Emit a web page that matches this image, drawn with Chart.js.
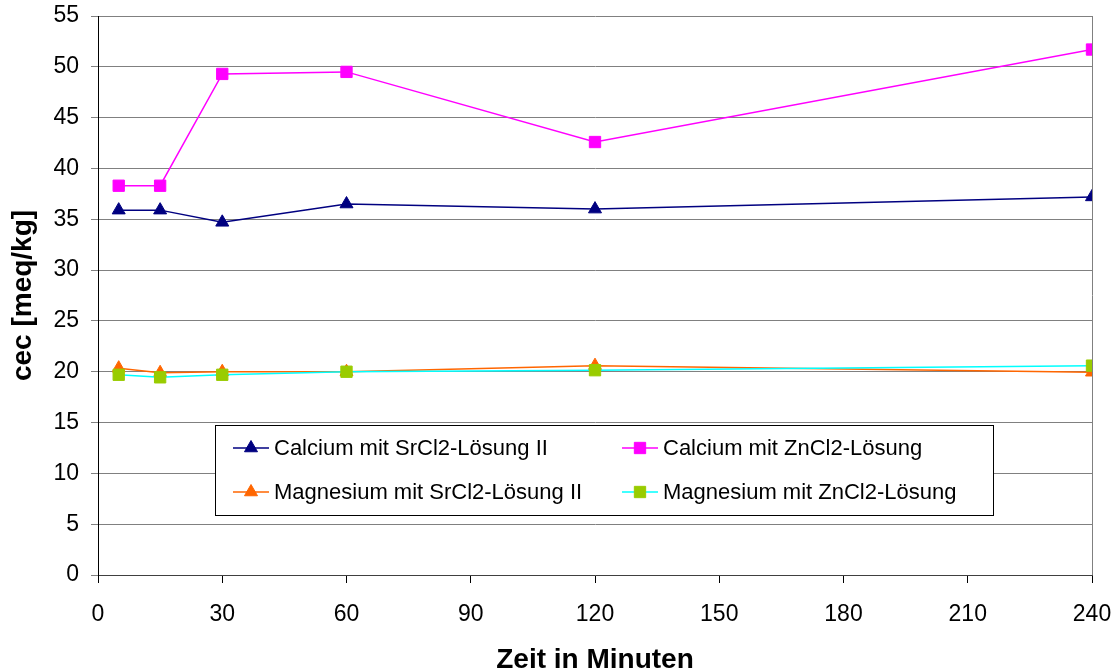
<!DOCTYPE html>
<html>
<head>
<meta charset="utf-8">
<script src="https://cdn.jsdelivr.net/npm/chart.js@4.4.0/dist/chart.umd.min.js"></script>
<style>
  html, body { margin: 0; padding: 0; background: #fff; }
  #wrap { width: 1119px; height: 671px; }
</style>
</head>
<body>
<div id="wrap"><canvas id="myChart" width="1119" height="671"></canvas></div>
<script>
// time points (minutes)
var zeit = [5, 15, 30, 60, 120, 240];
var xTicks = [0, 30, 60, 90, 120, 150, 180, 210, 240];

var caSr = [35.9, 35.9, 34.7, 36.5, 36.0, 37.2];
var caZn = [38.3, 38.3, 49.3, 49.5, 42.6, 51.7];
var mgSr = [20.35, 19.9, 20.0, 20.0, 20.6, 19.95];
var mgZn = [19.7, 19.45, 19.7, 20.0, 20.15, 20.6];

function pts(arr) {
  return arr.map(function(v, i) { return {x: zeit[i], y: v}; });
}

var font = "'Liberation Sans', Arial, sans-serif";

// legend drawn inside the plot, like the original
var boxLegend = {
  id: "boxLegend",
  afterDraw: function(chart) {
    var ctx = chart.ctx;
    var a = chart.chartArea;
    ctx.save();
    // right frame of the plot
    ctx.strokeStyle = "#808080";
    ctx.lineWidth = 1;
    ctx.beginPath();
    ctx.moveTo(Math.round(a.right) + 0.5, a.top);
    ctx.lineTo(Math.round(a.right) + 0.5, a.bottom);
    ctx.stroke();

    ctx.fillStyle = "#fff";
    ctx.fillRect(215, 425, 778, 90);
    ctx.strokeStyle = "#000";
    ctx.strokeRect(215.5, 425.5, 778, 90);

    var cols = [233, 622];
    var rows = [448, 492];
    chart.data.datasets.forEach(function(ds, i) {
      var cx = cols[i % 2], cy = rows[Math.floor(i / 2)];
      ctx.strokeStyle = ds.borderColor;
      ctx.lineWidth = 1.5;
      ctx.beginPath();
      ctx.moveTo(cx, cy);
      ctx.lineTo(cx + 36, cy);
      ctx.stroke();
      ctx.fillStyle = ds.pointBackgroundColor;
      ctx.strokeStyle = ds.pointBorderColor;
      ctx.lineWidth = 1;
      Chart.helpers.drawPoint(ctx, {pointStyle: ds.pointStyle, radius: ds.pointRadius, borderWidth: 1}, cx + 18, cy);
      ctx.fillStyle = "#000";
      ctx.font = "22px " + font;
      ctx.textBaseline = "middle";
      ctx.textAlign = "left";
      ctx.fillText(ds.label, cx + 41, cy + 1);
    });
    ctx.restore();
  }
};

new Chart("myChart", {
  type: "line",
  data: {
    datasets: [{
      label: "Calcium mit SrCl2-Lösung II",
      data: pts(caSr),
      borderColor: "#000080",
      pointBackgroundColor: "#000080",
      pointBorderColor: "#000080",
      pointStyle: "triangle",
      pointRadius: 7.5,
      order: 4
    }, {
      label: "Calcium mit ZnCl2-Lösung",
      data: pts(caZn),
      borderColor: "#ff00ff",
      pointBackgroundColor: "#ff00ff",
      pointBorderColor: "#ff00ff",
      pointStyle: "rect",
      pointRadius: 8,
      order: 3
    }, {
      label: "Magnesium mit SrCl2-Lösung II",
      data: pts(mgSr),
      borderColor: "#ff6600",
      pointBackgroundColor: "#ff6600",
      pointBorderColor: "#ff6600",
      pointStyle: "triangle",
      pointRadius: 7.5,
      order: 2
    }, {
      label: "Magnesium mit ZnCl2-Lösung",
      data: pts(mgZn),
      borderColor: "#00ffff",
      pointBackgroundColor: "#99cc00",
      pointBorderColor: "#99cc00",
      pointStyle: "rect",
      pointRadius: 8,
      order: 1
    }]
  },
  options: {
    responsive: false,
    animation: false,
    layout: {autoPadding: false, padding: {top: 16, right: 27, left: 0, bottom: 0}},
    elements: {line: {borderWidth: 1.5, tension: 0}, point: {borderWidth: 1}},
    plugins: {legend: {display: false}, tooltip: {enabled: false}},
    scales: {
      x: {
        type: "linear",
        min: 0, max: 240,
        afterBuildTicks: function(s) { s.ticks = xTicks.map(function(v) { return {value: v}; }); },
        afterFit: function(s) { s.height = 96; s.paddingLeft = 0; s.paddingRight = 0; },
        grid: {drawOnChartArea: false, color: "#000", tickLength: 8},
        border: {color: "#404040", width: 1},
        ticks: {color: "#000", font: {family: font, size: 23}, padding: 18, maxRotation: 0},
        title: {display: true, text: "Zeit in Minuten", color: "#000",
                font: {family: font, size: 28, weight: "bold", lineHeight: 1.0}, padding: {top: 0, bottom: -3}}
      },
      y: {
        min: 0, max: 55,
        afterFit: function(s) { s.width = 98; s.paddingTop = 0; s.paddingBottom = 0; },
        grid: {color: "#808080", tickLength: 7},
        border: {color: "#000", width: 1},
        ticks: {stepSize: 5, color: "#000", font: {family: font, size: 23}, padding: 12},
        title: {display: true, text: "cec [meq/kg]", color: "#000",
                font: {family: font, size: 28, weight: "bold"}, padding: {top: 6, bottom: 0}}
      }
    }
  },
  plugins: [boxLegend]
});
</script>
</body>
</html>
